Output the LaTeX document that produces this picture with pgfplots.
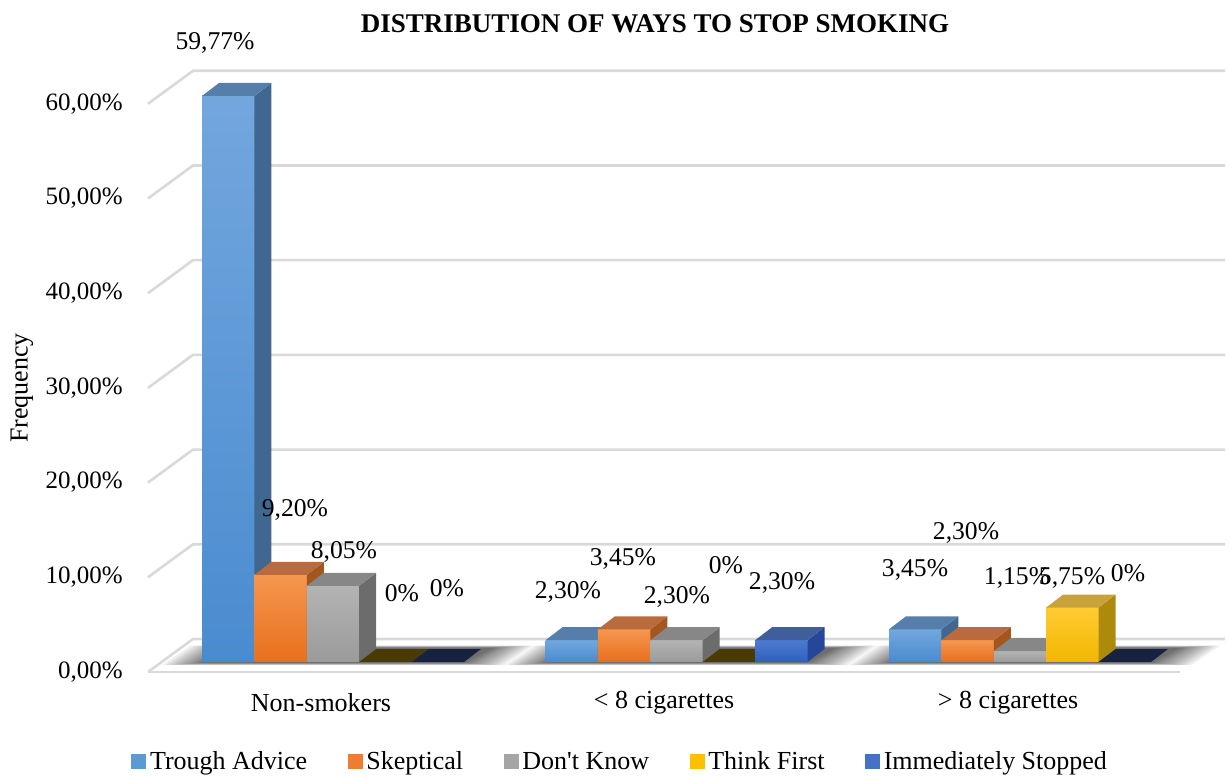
\documentclass[border=0pt]{standalone}
\usepackage{fontspec}
\setmainfont{Liberation Serif}[Ligatures=TeXOff]
\usepackage{pgfplots}
\pgfplotsset{compat=1.18}

% series colours: front face (top/bottom of gradient), top face, side face
\definecolor{blF1}{HTML}{72A7DE}\definecolor{blF2}{HTML}{4A8BCF}\definecolor{blT}{HTML}{557FAA}\definecolor{blS}{HTML}{3F6790}
\definecolor{orF1}{HTML}{F5964F}\definecolor{orF2}{HTML}{E8701C}\definecolor{orT}{HTML}{B96B3E}\definecolor{orS}{HTML}{A4561F}
\definecolor{grF1}{HTML}{B3B3B3}\definecolor{grF2}{HTML}{9B9B9B}\definecolor{grT}{HTML}{878787}\definecolor{grS}{HTML}{6C6C6C}
\definecolor{yeF1}{HTML}{FFCB33}\definecolor{yeF2}{HTML}{F2B700}\definecolor{yeT}{HTML}{C8A23A}\definecolor{yeS}{HTML}{AE8A0C}\definecolor{yeZ}{HTML}{4A3B05}
\definecolor{dbF1}{HTML}{4C7BD0}\definecolor{dbF2}{HTML}{2F5FBD}\definecolor{dbT}{HTML}{405E9C}\definecolor{dbS}{HTML}{25479A}\definecolor{dbZ}{HTML}{152340}
\definecolor{lgBlue}{HTML}{5B9BD5}\definecolor{lgOrange}{HTML}{ED7D31}\definecolor{lgGray}{HTML}{A5A5A5}
\definecolor{lgGold}{HTML}{FFC000}\definecolor{lgDBlue}{HTML}{4472C4}
\definecolor{gridc}{HTML}{D9D9D9}

% bar geometry (x in layout units, y in percent)
\newcommand\barw{52.4}
\newcommand\depx{17}
\newcommand\depy{1.37}

% a box-shaped bar: #1 left x, #2 value, #3/#4 front gradient, #5 top, #6 side
\newcommand\cubebar[6]{%
  \pgfmathsetmacro\xR{#1+\barw}%
  \pgfmathsetmacro\xA{#1+\depx}%
  \pgfmathsetmacro\xB{#1+\barw+\depx}%
  \pgfmathsetmacro\yT{#2+\depy}%
  \addplot[draw=none, forget plot, top color=#3, bottom color=#4]
    coordinates {(#1,0) (\xR,0) (\xR,#2) (#1,#2)};
  \addplot[draw=none, forget plot, fill=#6]
    coordinates {(\xR,0) (\xB,\depy) (\xB,\yT) (\xR,#2)};
  \addplot[draw=none, forget plot, fill=#5]
    coordinates {(#1,#2) (\xR,#2) (\xB,\yT) (\xA,\yT)};
}
% a bar of value 0: only its flat top is seen
\newcommand\flatbar[3]{%
  \pgfmathsetmacro\xR{#1+\barw}%
  \pgfmathsetmacro\xA{#1+\depx}%
  \pgfmathsetmacro\xB{#1+\barw+\depx}%
  \addplot[draw=none, forget plot, fill=#3]
    coordinates {(#1,#2) (\xR,#2) (\xB,\depy) (\xA,\depy)};
}
% soft shadow on the floor under a group of bars
\newcommand\shadowlayer[2]{%
  \pgfmathsetmacro\sA{#1-#2}%
  \pgfmathsetmacro\sB{#1+262+#2}%
  \pgfmathsetmacro\sC{#1+291+#2}%
  \pgfmathsetmacro\sD{#1+29-#2}%
  \pgfmathsetmacro\sY{-0.1-0.006*#2}%
  \pgfmathsetmacro\sZ{1.5+0.006*#2}%
  \addplot[draw=none, forget plot, fill=black, fill opacity=0.065]
    coordinates {(\sA,\sY) (\sB,\sY) (\sC,\sZ) (\sD,\sZ)};
}
\newcommand\floorshadow[1]{%
  \shadowlayer{#1}{40}\shadowlayer{#1}{36}\shadowlayer{#1}{32}\shadowlayer{#1}{28}%
  \shadowlayer{#1}{24}\shadowlayer{#1}{20}\shadowlayer{#1}{16}\shadowlayer{#1}{12}%
  \shadowlayer{#1}{9}\shadowlayer{#1}{6}\shadowlayer{#1}{3}\shadowlayer{#1}{0}%
}

\begin{document}
\begin{tikzpicture}
\begin{axis}[
  scale only axis, width=615pt, height=388pt,
  xmin=0, xmax=1230, ymin=-12.038, ymax=69.905,
  hide axis, clip=false, no markers,
  legend columns=5,
  legend image code/.code={\fill[#1, draw=none] (0pt,-3.75pt) rectangle (7.5pt,3.75pt);},
  legend style={at={(axis cs:621,-10.56)}, anchor=center, draw=none, fill=none,
    font=\fontsize{13}{15}\selectfont, nodes={inner xsep=1.8pt, inner ysep=1pt},
    /tikz/every odd column/.append style={column sep=0pt},
    /tikz/every even column/.append style={column sep=18.5pt}},
]
% invisible frame of the whole picture
\addplot[draw=none, forget plot] coordinates {(0,-12.038) (1230,69.905)};

% walls and floor grid
\addplot[gridc, line width=1.3pt, forget plot] coordinates {(148,-1.056) (1180,-1.056)};
\addplot[gridc, line width=1.3pt, forget plot] coordinates {(148,-1.056) (193,2.429) (1225,2.429)};
\addplot[gridc, line width=1.3pt, forget plot] coordinates {(148,8.944) (193,12.429) (1225,12.429)};
\addplot[gridc, line width=1.3pt, forget plot] coordinates {(148,18.944) (193,22.429) (1225,22.429)};
\addplot[gridc, line width=1.3pt, forget plot] coordinates {(148,28.944) (193,32.429) (1225,32.429)};
\addplot[gridc, line width=1.3pt, forget plot] coordinates {(148,38.944) (193,42.429) (1225,42.429)};
\addplot[gridc, line width=1.3pt, forget plot] coordinates {(148,48.944) (193,52.429) (1225,52.429)};
\addplot[gridc, line width=1.3pt, forget plot] coordinates {(148,58.944) (193,62.429) (1225,62.429)};

\floorshadow{202}
\floorshadow{545.5}
\floorshadow{889}

% Non-smokers
\cubebar{202}{59.77}{blF1}{blF2}{blT}{blS}
\cubebar{254.4}{9.20}{orF1}{orF2}{orT}{orS}
\cubebar{306.8}{8.05}{grF1}{grF2}{grT}{grS}
\flatbar{359.2}{0}{yeZ}
\flatbar{411.6}{0}{dbZ}
% < 8 cigarettes
\cubebar{545.5}{2.30}{blF1}{blF2}{blT}{blS}
\cubebar{597.9}{3.45}{orF1}{orF2}{orT}{orS}
\cubebar{650.3}{2.30}{grF1}{grF2}{grT}{grS}
\flatbar{702.7}{0}{yeZ}
\cubebar{755.1}{2.30}{dbF1}{dbF2}{dbT}{dbS}
% > 8 cigarettes
\cubebar{889}{3.45}{blF1}{blF2}{blT}{blS}
\cubebar{941.4}{2.30}{orF1}{orF2}{orT}{orS}
\cubebar{993.8}{1.15}{grF1}{grF2}{grT}{grS}
\cubebar{1046.2}{5.75}{yeF1}{yeF2}{yeT}{yeS}
\flatbar{1098.6}{0}{dbZ}

% legend
\addlegendimage{fill=lgBlue}\addlegendentry{Trough Advice}
\addlegendimage{fill=lgOrange}\addlegendentry{Skeptical}
\addlegendimage{fill=lgGray}\addlegendentry{Don't Know}
\addlegendimage{fill=lgGold}\addlegendentry{Think First}
\addlegendimage{fill=lgDBlue}\addlegendentry{Immediately Stopped}

% title and axis texts
\node[font=\bfseries\fontsize{13.5}{15}\selectfont] at (axis cs:655,67.37) {DISTRIBUTION OF WAYS TO STOP SMOKING};
\node[rotate=90, font=\fontsize{13}{15}\selectfont] at (axis cs:22,28.93) {Frequency};
\begin{scope}[every node/.style={anchor=east, font=\fontsize{12.5}{15}\selectfont, inner xsep=0pt}]
\node at (axis cs:123,-1.056) {0,00\%};
\node at (axis cs:123,8.944) {10,00\%};
\node at (axis cs:123,18.944) {20,00\%};
\node at (axis cs:123,28.944) {30,00\%};
\node at (axis cs:123,38.944) {40,00\%};
\node at (axis cs:123,48.944) {50,00\%};
\node at (axis cs:123,58.944) {60,00\%};
\end{scope}
\begin{scope}[every node/.style={font=\fontsize{13}{15}\selectfont}]
\node at (axis cs:321,-4.33) {Non-smokers};
\node at (axis cs:664,-4.33) {< 8 cigarettes};
\node at (axis cs:1008,-4.33) {> 8 cigarettes};
\end{scope}

% value labels
\begin{scope}[every node/.style={font=\fontsize{12.8}{15}\selectfont, inner sep=0pt}]
\node at (axis cs:215,65.36) {59,77\%};
\node at (axis cs:295,16.05) {9,20\%};
\node at (axis cs:344,11.62) {8,05\%};
\node at (axis cs:402,7.29) {0\%};
\node at (axis cs:447,7.81) {0\%};
\node at (axis cs:568,7.39) {2,30\%};
\node at (axis cs:623,10.88) {3,45\%};
\node at (axis cs:677,6.86) {2,30\%};
\node at (axis cs:726,10.24) {0\%};
\node at (axis cs:782,8.34) {2,30\%};
\node at (axis cs:915,9.71) {3,45\%};
\node at (axis cs:966,13.62) {2,30\%};
\node at (axis cs:1017,8.87) {1,15\%};
\node at (axis cs:1072,8.87) {5,75\%};
\node at (axis cs:1128,9.40) {0\%};
\end{scope}
\end{axis}
\end{tikzpicture}
\end{document}
